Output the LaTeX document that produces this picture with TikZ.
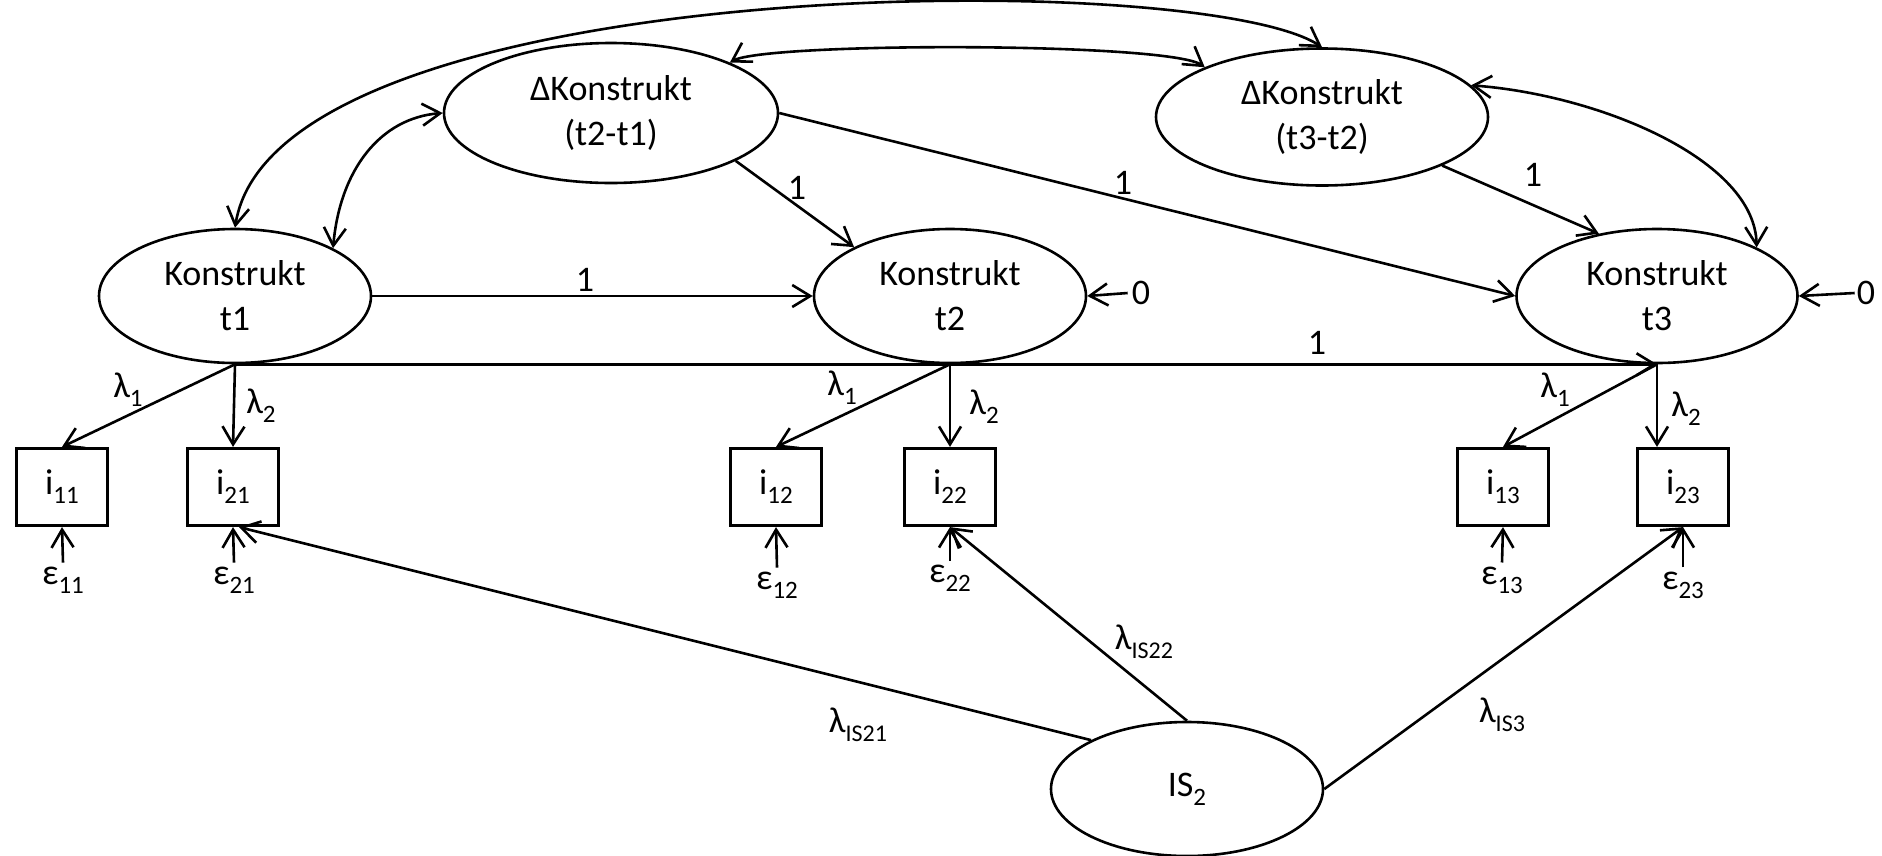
\documentclass[tikz,border=0pt]{standalone}
\usepackage{fontspec}
\setmainfont{Carlito}
\usetikzlibrary{arrows.meta,shapes.geometric,calc}
\newcommand\lsub[1]{\raisebox{-9pt}{\fontsize{25}{25}\selectfont #1}}
\newcommand\lsubs[1]{\raisebox{-9pt}{\fontsize{24}{24}\selectfont #1}}
\begin{document}
\begin{tikzpicture}[x=1pt,y=-1pt,
  font=\fontsize{36}{45}\selectfont,
  lat/.style={ellipse,draw,line width=2.6pt,inner sep=0pt,minimum width=272pt,minimum height=134pt,align=center},
  obs/.style={rectangle,draw,line width=3.2pt,minimum width=91pt,minimum height=77pt,inner sep=0pt},
  lbl/.style={inner sep=0pt},
  eps/.style={inner sep=4pt},
  arr/.style={line width=2.6pt,-{Straight Barb[length=18pt,width=22pt]}},
  darr/.style={line width=2.6pt,{Straight Barb[length=18pt,width=22pt]}-{Straight Barb[length=18pt,width=22pt]}},
]
\useasboundingbox (0,0) rectangle (1882,855);

% latent variables
\node[lat] (t1) at (235,296) {Konstrukt\\t1};
\node[lat] (t2) at (950,296) {Konstrukt\\t2};
\node[lat,minimum width=281pt] (t3) at (1657,296) {Konstrukt\\t3};
\node[lat,minimum width=334pt,minimum height=140pt] (d21) at (611,113) {ΔKonstrukt\\(t2-t1)};
\node[lat,minimum width=332pt,minimum height=137pt] (d32) at (1322,117) {ΔKonstrukt\\(t3-t2)};
\node[lat] (is) at (1187,789) {IS\lsub{2}};

% indicators
\node[obs] (i11) at (62,487) {i\lsub{11}};
\node[obs] (i21) at (233,487) {i\lsub{21}};
\node[obs] (i12) at (776,487) {i\lsub{12}};
\node[obs] (i22) at (950,487) {i\lsub{22}};
\node[obs] (i13) at (1503,487) {i\lsub{13}};
\node[obs] (i23) at (1683,487) {i\lsub{23}};

% errors
\node[eps] (e11) at (63,580) {ε\lsub{11}};
\node[eps] (e21) at (234,580) {ε\lsub{21}};
\node[eps] (e12) at (777,585) {ε\lsub{12}};
\node[eps] (e22) at (950,578) {ε\lsub{22}};
\node[eps] (e13) at (1502,580) {ε\lsub{13}};
\node[eps] (e23) at (1683,585) {ε\lsub{23}};

% zero residuals
\node[inner sep=4pt] (z2) at (1141,293) {0};
\node[inner sep=2pt] (z3) at (1866,293) {0};

% labels
\node[lbl] (l12) at (585,280) {1};
\node[lbl] (l22) at (797,188) {1};
\node[lbl] (l23) at (1123,183) {1};
\node[lbl] (l33) at (1533,175) {1};
\node[lbl] (l13) at (1317,343) {1};

\node[lbl] (a11) at (128,390) {λ\lsub{1}};
\node[lbl] (a12) at (261,406) {λ\lsub{2}};
\node[lbl] (a21) at (842,388) {λ\lsub{1}};
\node[lbl] (a22) at (984,407) {λ\lsub{2}};
\node[lbl] (a31) at (1555,390) {λ\lsub{1}};
\node[lbl] (a32) at (1686,409) {λ\lsub{2}};
\node[lbl] (b21) at (858,725) {λ\lsubs{IS21}};
\node[lbl] (b22) at (1144,642) {λ\lsubs{IS22}};
\node[lbl] (b3) at (1502,715) {λ\lsubs{IS3}};

% structural paths
\draw[arr] (t1.east) -- (t2.west);
\draw[arr] (t1.south) -- (t3.south);
\draw[arr] (d21.-21.8) -- (t2.153.2);
\draw[arr] (d21.east) -- (t3.west);
\draw[arr] (d32.-22.8) -- (t3.133);
\draw[arr] (z2.west) -- (t2.east);
\draw[arr] (z3.west) -- (t3.east);

% covariances
\draw[darr] (t1.north) .. controls (275,-28) and (1200,-33) .. (d32.north);
\draw[darr] (d21.23) .. controls (765,42) and (1170,42) .. (d32.157.5);
\draw[darr] (t1.26.8) .. controls (340,170) and (380,118) .. (d21.west);
\draw[darr] (d32.12.9) .. controls (1600,95) and (1755,160) .. (t3.26.8);

% loadings
\draw[arr] (t1.south) -- (i11.north);
\draw[arr] (t1.south) -- (i21.north);
\draw[arr] (t2.south) -- (i12.north);
\draw[arr] (t2.south) -- (i22.north);
\draw[arr] (t3.south) -- (i13.north);
\draw[arr] (t3.south) -- (t3.south |- i23.north);

% errors
\draw[arr] (e11.north) -- (i11.south);
\draw[arr] (e21.north) -- (i21.south);
\draw[arr] (e12.north) -- (i12.south);
\draw[arr] (e22.north) -- (i22.south);
\draw[arr] (e13.north) -- (i13.south);
\draw[arr] (e23.north) -- (i23.south);

% IS loadings
\draw[arr] (is.153.2) -- ($(i21.south)+(6,0)$);
\draw[arr] (is.north) -- (i22.south);
\draw[arr] (is.east) -- (i23.south);
\end{tikzpicture}
\end{document}
